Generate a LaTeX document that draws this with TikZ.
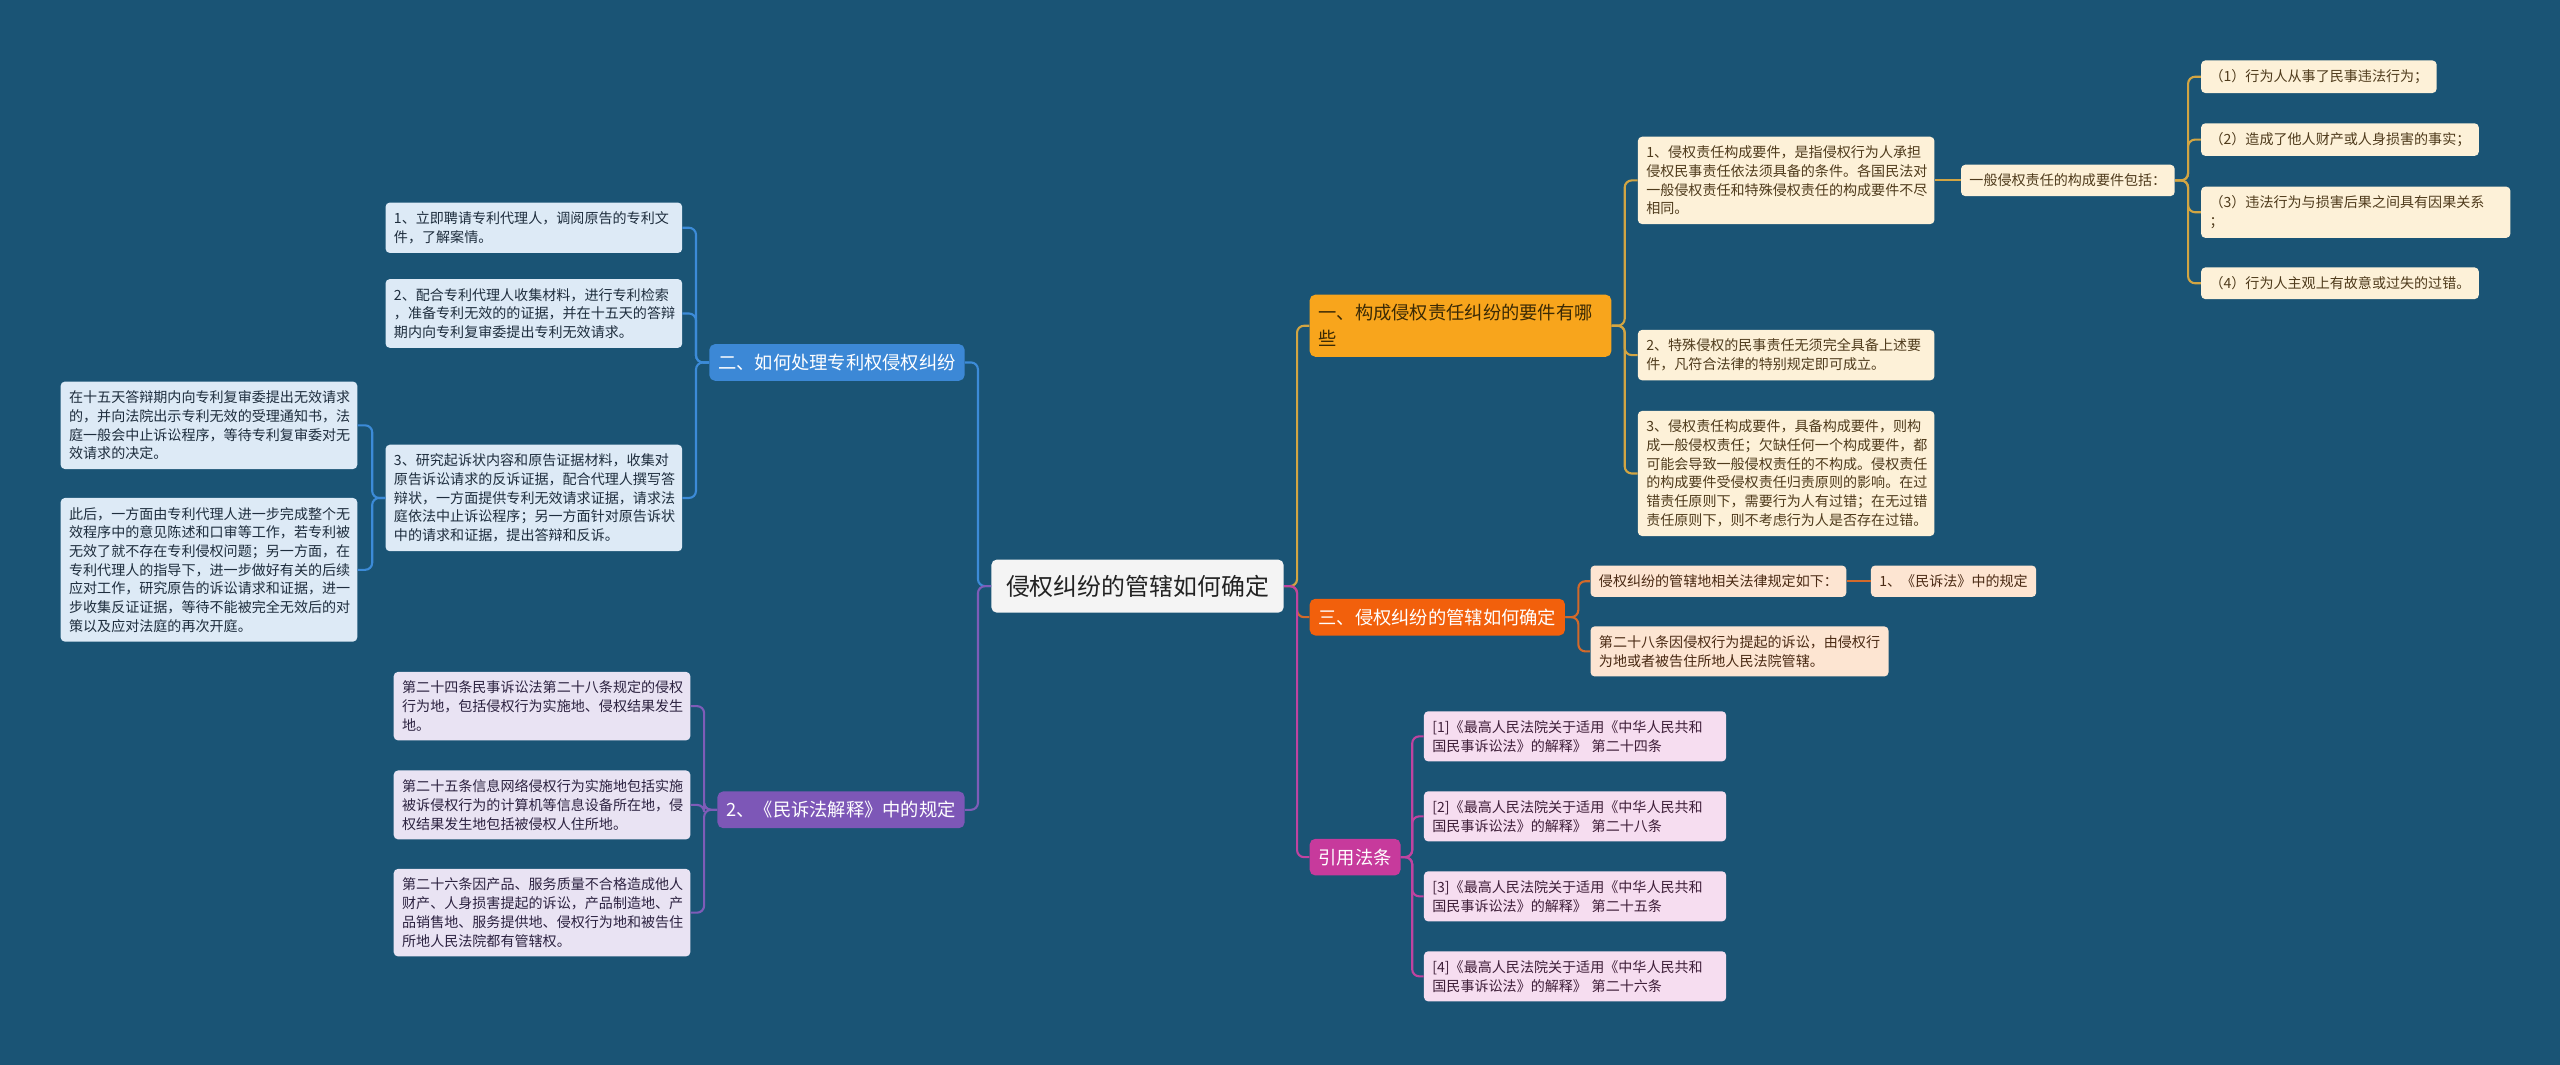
\documentclass[tikz,border=0pt]{standalone}
\usepackage{fontspec}
\setmainfont{Noto Sans CJK SC}
\usetikzlibrary{positioning}
\definecolor{bgblue}{HTML}{1A5475}
\definecolor{rootfill}{HTML}{F4F4F4}
\definecolor{rootink}{HTML}{222222}
\definecolor{ybranch}{HTML}{F8A51C}
\definecolor{ybranchink}{HTML}{3B2A05}
\definecolor{obranch}{HTML}{F2600C}
\definecolor{pbranch}{HTML}{C73A9C}
\definecolor{bbranch}{HTML}{3C88D6}
\definecolor{vbranch}{HTML}{7D57B7}
\definecolor{yfill}{HTML}{FDF1D8}
\definecolor{yink}{HTML}{4F3B1C}
\definecolor{ofill}{HTML}{FDE5D2}
\definecolor{oink}{HTML}{4A2A14}
\definecolor{pfill}{HTML}{F6DDF0}
\definecolor{pinkink}{HTML}{3E1E38}
\definecolor{bfill}{HTML}{DDEAF6}
\definecolor{bink}{HTML}{1E2D3D}
\definecolor{vfill}{HTML}{E9E3F3}
\definecolor{vink}{HTML}{2C2240}
\definecolor{ylink}{HTML}{D2A543}
\definecolor{olink}{HTML}{D2692A}
\definecolor{plink}{HTML}{C043A0}
\definecolor{blink}{HTML}{3C8BD8}
\definecolor{vlink}{HTML}{7E5CB8}
\tikzset{
  rootbox/.style = {fill=rootfill, text=rootink, rounded corners=4pt, inner xsep=10.5pt, inner ysep=11pt, font=\fontsize{17}{20}\selectfont},
  branch/.style  = {rounded corners=4pt, inner xsep=6.3pt, inner ysep=7pt, align=left, text=white, font=\fontsize{13}{18.5}\selectfont},
  leaf/.style    = {rounded corners=3pt, inner xsep=6pt, inner ysep=6.5pt, align=left, font=\fontsize{10}{13.3}\selectfont},
  yleaf/.style   = {leaf, fill=yfill, text=yink},
  oleaf/.style   = {leaf, fill=ofill, text=oink},
  pleaf/.style   = {leaf, fill=pfill, text=pinkink},
  bleaf/.style   = {leaf, fill=bfill, text=bink},
  vleaf/.style   = {leaf, fill=vfill, text=vink},
  link/.style    = {rounded corners=5pt, line width=1.5pt}
}
\begin{document}
\begin{tikzpicture}[x=0.04082cm, y=-0.04082cm]
  \fill[bgblue] (0,0) rectangle (1568,652);

  \node[rootbox, anchor=west] (root) at (607,359) {侵权纠纷的管辖如何确定};

  \node[branch, fill=ybranch, text=ybranchink, text width=202pt, anchor=west] (one) at (802,199.5) {一、构成侵权责任纠纷的要件有哪\\些};
  \node[branch, fill=obranch, anchor=west] (three) at (802,378) {三、侵权纠纷的管辖如何确定};
  \node[branch, fill=pbranch, anchor=west] (cite) at (802,525) {引用法条};
  \node[branch, fill=bbranch, anchor=east] (two) at (591,222) {二、如何处理专利权侵权纠纷};
  \node[branch, fill=vbranch, anchor=east] (rule) at (591,496) {2、《民诉法解释》中的规定};

  \node[yleaf, text width=199pt, anchor=west] (a1) at (1003,110.5) {1、侵权责任构成要件，是指侵权行为人承担\\侵权民事责任依法须具备的条件。各国民法对\\一般侵权责任和特殊侵权责任的构成要件不尽\\相同。};
  \node[yleaf, text width=199pt, anchor=west] (a2) at (1003,217.5) {2、特殊侵权的民事责任无须完全具备上述要\\件，凡符合法律的特别规定即可成立。};
  \node[yleaf, text width=199pt, anchor=west] (a3) at (1003,290) {3、侵权责任构成要件，具备构成要件，则构\\成一般侵权责任；欠缺任何一个构成要件，都\\可能会导致一般侵权责任的不构成。侵权责任\\的构成要件受侵权责任归责原则的影响。在过\\错责任原则下，需要行为人有过错；在无过错\\责任原则下，则不考虑行为人是否存在过错。};
  \node[yleaf, right=0.65cm of a1] (gen) {一般侵权责任的构成要件包括：};
  \node[yleaf, anchor=west] (g1) at (1348,47) {（1）行为人从事了民事违法行为；};
  \node[yleaf, anchor=west] (g2) at (1348,85.5) {（2）造成了他人财产或人身损害的事实；};
  \node[yleaf, text width=208pt, anchor=west] (g3) at (1348,130) {（3）违法行为与损害后果之间具有因果关系\\；};
  \node[yleaf, anchor=west] (g4) at (1348,173.5) {（4）行为人主观上有故意或过失的过错。};

  \node[oleaf, anchor=west] (h1) at (974,356) {侵权纠纷的管辖地相关法律规定如下：};
  \node[oleaf, right=0.6cm of h1] (h1a) {1、《民诉法》中的规定};
  \node[oleaf, text width=200pt, anchor=west] (h2) at (974,399) {第二十八条因侵权行为提起的诉讼，由侵权行\\为地或者被告住所地人民法院管辖。};

  \node[pleaf, text width=203pt, anchor=west] (r1) at (872,451) {[1]《最高人民法院关于适用《中华人民共和\\国民事诉讼法》的解释》 第二十四条};
  \node[pleaf, text width=203pt, anchor=west] (r2) at (872,500) {[2]《最高人民法院关于适用《中华人民共和\\国民事诉讼法》的解释》 第二十八条};
  \node[pleaf, text width=203pt, anchor=west] (r3) at (872,549) {[3]《最高人民法院关于适用《中华人民共和\\国民事诉讼法》的解释》 第二十五条};
  \node[pleaf, text width=203pt, anchor=west] (r4) at (872,598) {[4]《最高人民法院关于适用《中华人民共和\\国民事诉讼法》的解释》 第二十六条};

  \node[bleaf, text width=199pt, anchor=east] (b1) at (418,139.5) {1、立即聘请专利代理人，调阅原告的专利文\\件，了解案情。};
  \node[bleaf, text width=199pt, anchor=east] (b2) at (418,192) {2、配合专利代理人收集材料，进行专利检索\\，准备专利无效的的证据，并在十五天的答辩\\期内向专利复审委提出专利无效请求。};
  \node[bleaf, text width=199pt, anchor=east] (b3) at (418,305) {3、研究起诉状内容和原告证据材料，收集对\\原告诉讼请求的反诉证据，配合代理人撰写答\\辩状，一方面提供专利无效请求证据，请求法\\庭依法中止诉讼程序；另一方面针对原告诉状\\中的请求和证据，提出答辩和反诉。};
  \node[bleaf, text width=199pt, anchor=east] (c1) at (219,260.5) {在十五天答辩期内向专利复审委提出无效请求\\的，并向法院出示专利无效的受理通知书，法\\庭一般会中止诉讼程序，等待专利复审委对无\\效请求的决定。};
  \node[bleaf, text width=199pt, anchor=east] (c2) at (219,349) {此后，一方面由专利代理人进一步完成整个无\\效程序中的意见陈述和口审等工作，若专利被\\无效了就不存在专利侵权问题；另一方面，在\\专利代理人的指导下，进一步做好有关的后续\\应对工作，研究原告的诉讼请求和证据，进一\\步收集反证证据，等待不能被完全无效后的对\\策以及应对法庭的再次开庭。};

  \node[vleaf, text width=199pt, anchor=east] (d1) at (423,432.5) {第二十四条民事诉讼法第二十八条规定的侵权\\行为地，包括侵权行为实施地、侵权结果发生\\地。};
  \node[vleaf, text width=199pt, anchor=east] (d2) at (423,493) {第二十五条信息网络侵权行为实施地包括实施\\被诉侵权行为的计算机等信息设备所在地，侵\\权结果发生地包括被侵权人住所地。};
  \node[vleaf, text width=199pt, anchor=east] (d3) at (423,559) {第二十六条因产品、服务质量不合格造成他人\\财产、人身损害提起的诉讼，产品制造地、产\\品销售地、服务提供地、侵权行为地和被告住\\所地人民法院都有管辖权。};

  \draw[link, ylink] (root.east) -- ++(8,0) |- (one.west);
  \draw[link, olink] (root.east) -- ++(8,0) |- (three.west);
  \draw[link, plink] (root.east) -- ++(8,0) |- (cite.west);
  \draw[link, blink] (root.west) -- ++(-8,0) |- (two.east);
  \draw[link, vlink] (root.west) -- ++(-8,0) |- (rule.east);

  \draw[link, ylink] (one.east) -- ++(8,0) |- (a1.west);
  \draw[link, ylink] (one.east) -- ++(8,0) |- (a2.west);
  \draw[link, ylink] (one.east) -- ++(8,0) |- (a3.west);
  \draw[link, ylink] (a1.east) -- (gen.west);
  \draw[link, ylink] (gen.east) -- ++(8,0) |- (g1.west);
  \draw[link, ylink] (gen.east) -- ++(8,0) |- (g2.west);
  \draw[link, ylink] (gen.east) -- ++(8,0) |- (g3.west);
  \draw[link, ylink] (gen.east) -- ++(8,0) |- (g4.west);

  \draw[link, olink] (three.east) -- ++(8,0) |- (h1.west);
  \draw[link, olink] (three.east) -- ++(8,0) |- (h2.west);
  \draw[link, olink] (h1.east) -- (h1a.west);

  \draw[link, plink] (cite.east) -- ++(7,0) |- (r1.west);
  \draw[link, plink] (cite.east) -- ++(7,0) |- (r2.west);
  \draw[link, plink] (cite.east) -- ++(7,0) |- (r3.west);
  \draw[link, plink] (cite.east) -- ++(7,0) |- (r4.west);

  \draw[link, blink] (two.west) -- ++(-8,0) |- (b1.east);
  \draw[link, blink] (two.west) -- ++(-8,0) |- (b2.east);
  \draw[link, blink] (two.west) -- ++(-8,0) |- (b3.east);
  \draw[link, blink] (b3.west) -- ++(-8,0) |- (c1.east);
  \draw[link, blink] (b3.west) -- ++(-8,0) |- (c2.east);

  \draw[link, vlink] (rule.west) -- ++(-8,0) |- (d1.east);
  \draw[link, vlink] (rule.west) -- ++(-8,0) |- (d2.east);
  \draw[link, vlink] (rule.west) -- ++(-8,0) |- (d3.east);
\end{tikzpicture}
\end{document}
